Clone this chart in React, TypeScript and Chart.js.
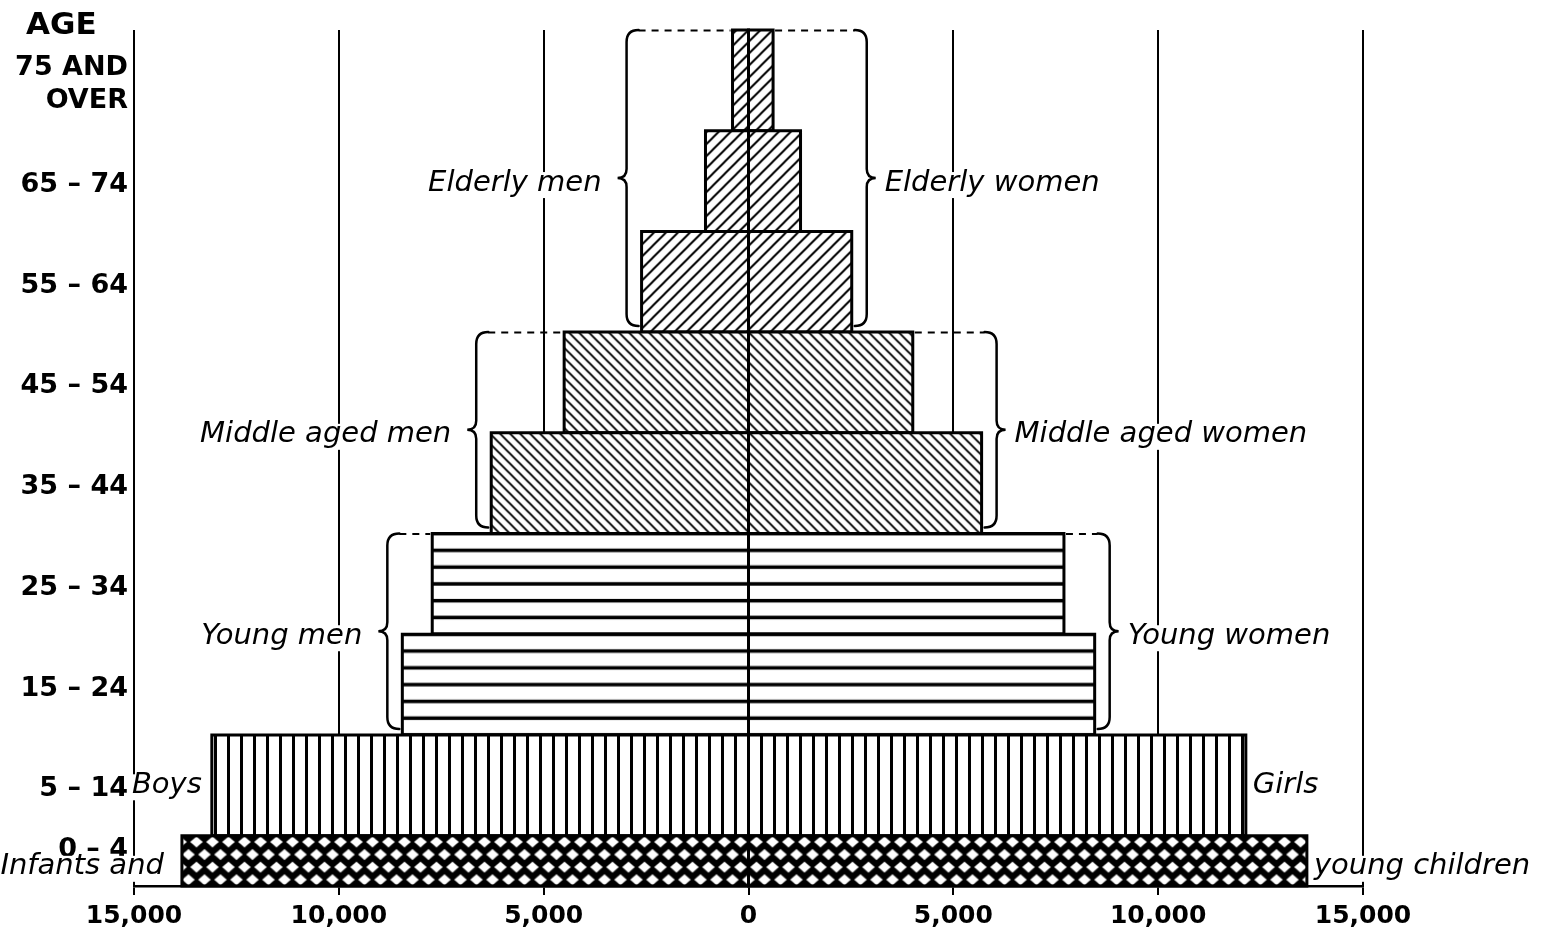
import React, { useEffect, useRef } from 'react';
import { Chart, registerables } from 'chart.js';

Chart.register(...registerables);

// ---- Data (bottom to top) ----
const ageStart = [0, 5, 15, 25, 35, 45, 55, 65, 75];
const ageEnd = [5, 15, 25, 35, 45, 55, 65, 75, 85];
const males = [13830, 13100, 8450, 7720, 6280, 4500, 2610, 1050, 390];
const females = [13630, 12140, 8450, 7700, 5690, 4010, 2520, 1270, 600];
const groupPattern = ['cross', 'vertical', 'horizontal', 'horizontal', 'backslash', 'backslash', 'slash', 'slash', 'slash'];

const ageTickValues = [4, 10, 20, 30, 40, 50, 60, 70, 80];
const ageTickLabels: (string | string[])[] = ['0 – 4', '5 – 14', '15 – 24', '25 – 34', '35 – 44', '45 – 54', '55 – 64', '65 – 74', ['75 AND', 'OVER']];
const xTickValues = [-15000, -10000, -5000, 0, 5000, 10000, 15000];
const xTickLabels = ['15,000', '10,000', '5,000', '0', '5,000', '10,000', '15,000'];
const axisTitle = 'AGE';

const braceFrom = [55, 35, 15];
const braceTo = [85, 55, 35];
const braceMenLabels = ['Elderly men', 'Middle aged men', 'Young men'];
const braceWomenLabels = ['Elderly women', 'Middle aged women', 'Young women'];

const childGroupIndex = [1, 0];
const childMenLabels = ['Boys', 'Infants and'];
const childWomenLabels = ['Girls', 'young children'];

const FONT = '"DejaVu Sans", "Noto Sans", sans-serif';

function makeTile(w: number, h: number, bg: string, draw: (g: CanvasRenderingContext2D) => void) {
  const c = document.createElement('canvas');
  c.width = w;
  c.height = h;
  const g = c.getContext('2d')!;
  g.fillStyle = bg;
  g.fillRect(0, 0, w, h);
  g.fillStyle = '#000';
  g.strokeStyle = '#000';
  draw(g);
  return c;
}

function makePatterns(ctx: CanvasRenderingContext2D) {
  const s1 = 12;
  const slash = makeTile(s1, s1, '#fff', (g) => {
    g.lineWidth = 2;
    g.beginPath();
    g.moveTo(0, s1); g.lineTo(s1, 0);
    g.moveTo(-s1 / 2, s1 / 2); g.lineTo(s1 / 2, -s1 / 2);
    g.moveTo(s1 / 2, s1 * 1.5); g.lineTo(s1 * 1.5, s1 / 2);
    g.stroke();
  });
  const s2 = 10;
  const backslash = makeTile(s2, s2, '#fff', (g) => {
    g.lineWidth = 1.9;
    g.beginPath();
    g.moveTo(0, 0); g.lineTo(s2, s2);
    g.moveTo(-s2 / 2, s2 / 2); g.lineTo(s2 / 2, s2 * 1.5);
    g.moveTo(s2 / 2, -s2 / 2); g.lineTo(s2 * 1.5, s2 / 2);
    g.stroke();
  });
  const horizontal = makeTile(4, 100, '#fff', (g) => {
    for (let k = 0; k <= 6; k++) g.fillRect(0, (k * 100) / 6 - 1.75, 4, 3.5);
  });
  const vertical = makeTile(13, 4, '#fff', (g) => {
    g.fillRect(0, 0, 3, 4);
  });
  const cross = makeTile(16, 24, '#000', (g) => {
    g.fillStyle = '#fff';
    const dia = (cx: number, cy: number) => {
      g.beginPath();
      g.moveTo(cx - 6.3, cy); g.lineTo(cx, cy - 5.3); g.lineTo(cx + 6.3, cy); g.lineTo(cx, cy + 5.3);
      g.closePath();
      g.fill();
    };
    dia(8, 6); dia(0, 18); dia(16, 18); dia(8, 30); dia(0, -6); dia(16, -6);
  });
  return {
    slash: ctx.createPattern(slash, 'repeat')!,
    backslash: ctx.createPattern(backslash, 'repeat')!,
    horizontal: ctx.createPattern(horizontal, 'repeat')!,
    vertical: ctx.createPattern(vertical, 'repeat')!,
    cross: ctx.createPattern(cross, 'repeat')!,
  } as Record<string, CanvasPattern>;
}

function drawBrace(ctx: CanvasRenderingContext2D, bx: number, y1: number, y2: number, dir: number) {
  const r = 12, d = 9;
  const ym = (y1 + y2) / 2;
  ctx.beginPath();
  ctx.moveTo(bx - dir * r, y1);
  ctx.quadraticCurveTo(bx, y1, bx, y1 + r);
  ctx.lineTo(bx, ym - 9);
  ctx.quadraticCurveTo(bx, ym, bx + dir * d, ym);
  ctx.quadraticCurveTo(bx, ym, bx, ym + 9);
  ctx.lineTo(bx, y2 - r);
  ctx.quadraticCurveTo(bx, y2, bx - dir * r, y2);
  ctx.stroke();
}

function drawLabel(ctx: CanvasRenderingContext2D, text: string, px: number, py: number, align: 'left' | 'right') {
  ctx.font = `italic 29px ${FONT}`;
  const w = ctx.measureText(text).width;
  const left = align === 'right' ? px - w : px;
  ctx.fillStyle = '#fff';
  ctx.fillRect(left - 1, py - 11, w + 2, 26);
  ctx.fillStyle = '#000';
  ctx.textAlign = align;
  ctx.textBaseline = 'middle';
  ctx.fillText(text, px, py);
}

export default function App() {
  const ref = useRef<HTMLCanvasElement>(null);

  useEffect(() => {
    const canvas = ref.current!;
    const ctx = canvas.getContext('2d')!;
    const patterns = makePatterns(ctx);

    const datasets: any[] = [];
    for (let i = 0; i < ageStart.length; i++) {
      const lo = ageStart[i];
      const hi = ageEnd[i];
      const common = {
        backgroundColor: patterns[groupPattern[i]],
        borderColor: '#000',
        borderWidth: 3,
        borderJoinStyle: 'miter',
        borderCapStyle: 'square',
        fill: 'shape',
        pointRadius: 0,
        pointHoverRadius: 0,
        tension: 0,
        clip: false,
      };
      datasets.push({
        ...common,
        label: `Males ${lo}-${hi}`,
        data: [
          { x: 0, y: lo }, { x: -males[i], y: lo }, { x: -males[i], y: hi }, { x: 0, y: hi }, { x: 0, y: lo },
        ],
      });
      datasets.push({
        ...common,
        label: `Females ${lo}-${hi}`,
        data: [
          { x: 0, y: lo }, { x: females[i], y: lo }, { x: females[i], y: hi }, { x: 0, y: hi }, { x: 0, y: lo },
        ],
      });
    }

    const patternAlign = {
      id: 'patternAlign',
      beforeDraw(chart: any) {
        const { x, y } = chart.scales;
        const x0 = x.getPixelForValue(0);
        const M = (tx: number, ty: number, sx = 1, sy = 1) => new DOMMatrix().translate(tx, ty).scale(sx, sy);
        patterns.slash.setTransform(M(x0, y.getPixelForValue(85)));
        patterns.backslash.setTransform(M(x0, y.getPixelForValue(55)));
        const ten = y.getPixelForValue(25) - y.getPixelForValue(35);
        patterns.horizontal.setTransform(M(0, y.getPixelForValue(35), 1, ten / 100));
        patterns.vertical.setTransform(M(x0 - 1.5, 0));
        const five = y.getPixelForValue(0) - y.getPixelForValue(5);
        patterns.cross.setTransform(M(x0, y.getPixelForValue(5), 1, five / 48));
      },
    };

    const annotate = {
      id: 'annotate',
      afterDatasetsDraw(chart: any) {
        const { x, y } = chart.scales;
        const c: CanvasRenderingContext2D = chart.ctx;
        c.save();
        c.strokeStyle = '#000';
        c.lineCap = 'round';
        for (let b = 0; b < braceFrom.length; b++) {
          const from = braceFrom[b];
          const to = braceTo[b];
          let maxM = 0, maxF = 0, topM = 0, topF = 0;
          for (let i = 0; i < ageStart.length; i++) {
            if (ageStart[i] >= from && ageEnd[i] <= to) {
              maxM = Math.max(maxM, males[i]);
              maxF = Math.max(maxF, females[i]);
              if (ageEnd[i] === to) { topM = males[i]; topF = females[i]; }
            }
          }
          const y1 = y.getPixelForValue(to);
          const y2 = y.getPixelForValue(from) - 6;
          const ym = (y1 + y.getPixelForValue(from)) / 2;
          const bl = x.getPixelForValue(-maxM) - 15;
          const br = x.getPixelForValue(maxF) + 15;
          c.lineWidth = 2.5;
          c.setLineDash([]);
          drawBrace(c, bl, y1, y2, -1);
          drawBrace(c, br, y1, y2, 1);
          c.lineWidth = 2;
          c.setLineDash([7, 6]);
          c.lineCap = 'butt';
          c.beginPath();
          c.moveTo(bl + 12, y1 + 0.5);
          c.lineTo(x.getPixelForValue(-topM) - 2, y1 + 0.5);
          c.moveTo(x.getPixelForValue(topF) + 2, y1 + 0.5);
          c.lineTo(br - 12, y1 + 0.5);
          c.stroke();
          c.setLineDash([]);
          c.lineCap = 'round';
          drawLabel(c, braceMenLabels[b], bl - 9 - 16, ym + 2, 'right');
          drawLabel(c, braceWomenLabels[b], br + 9 + 9, ym + 2, 'left');
        }
        for (let k = 0; k < childGroupIndex.length; k++) {
          const i = childGroupIndex[k];
          const ym = (y.getPixelForValue(ageStart[i]) + y.getPixelForValue(ageEnd[i])) / 2 + (k === 1 ? 6 : 0);
          drawLabel(c, childMenLabels[k], x.getPixelForValue(-males[i]) - (k === 1 ? 18 : 10), ym, 'right');
          drawLabel(c, childWomenLabels[k], x.getPixelForValue(females[i]) + 7, ym, 'left');
        }
        // axis title
        c.font = `bold 31px ${FONT}`;
        c.fillStyle = '#000';
        c.textAlign = 'left';
        c.textBaseline = 'alphabetic';
        c.fillText(axisTitle, 26, chart.chartArea.top + 4);
        c.restore();
      },
    };

    const chart = new Chart(canvas, {
      type: 'line',
      data: { datasets },
      options: {
        animation: false,
        responsive: false,
        devicePixelRatio: 1,
        events: [],
        layout: { padding: { top: 30, right: 189, left: 0, bottom: 0 } },
        plugins: {
          legend: { display: false },
          tooltip: { enabled: false },
          title: { display: false },
        },
        scales: {
          x: {
            type: 'linear',
            min: -15000,
            max: 15000,
            afterBuildTicks: (s: any) => { s.ticks = xTickValues.map((v) => ({ value: v })); },
            afterFit: (s: any) => { s.height = 51; s.paddingLeft = 0; s.paddingRight = 0; },
            ticks: {
              callback: (_v: any, i: number) => xTickLabels[i],
              font: { family: FONT, size: 25, weight: 'bold' },
              color: '#000',
              padding: 6,
              maxRotation: 0,
              autoSkip: false,
            },
            grid: { color: '#000', lineWidth: 2, drawTicks: true, tickLength: 9, tickColor: '#000', tickWidth: 2 },
            border: { display: true, color: '#000', width: 2.5 },
          },
          y: {
            type: 'linear',
            min: 0,
            max: 85,
            afterBuildTicks: (s: any) => { s.ticks = ageTickValues.map((v) => ({ value: v })); },
            afterFit: (s: any) => { s.width = 134; s.paddingTop = 0; s.paddingBottom = 0; },
            ticks: {
              callback: (_v: any, i: number) => ageTickLabels[i],
              font: { family: FONT, size: 27, weight: 'bold', lineHeight: 1.2 },
              color: '#000',
              padding: 6,
              labelOffset: 4,
              autoSkip: false,
            },
            grid: { display: false, drawTicks: false },
            border: { display: false },
          },
        },
      } as any,
      plugins: [patternAlign, annotate],
    });

    return () => chart.destroy();
  }, []);

  return (
    <div style={{ position: 'fixed', left: 0, top: 0, width: 1552, height: 937, background: '#fff' }}>
      <canvas ref={ref} width={1552} height={937} style={{ display: 'block' }} />
    </div>
  );
}
